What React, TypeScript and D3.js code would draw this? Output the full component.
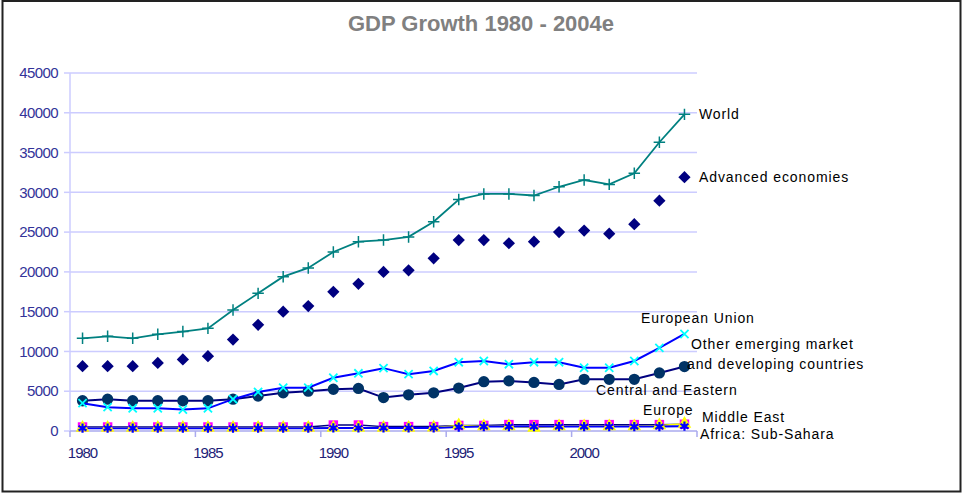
import React from "react";
import * as d3 from "d3";

const years = d3.range(1980, 2005);
const yTicks = [0, 5000, 10000, 15000, 20000, 25000, 30000, 35000, 40000, 45000];
const xTickLabels = [1980, 1985, 1990, 1995, 2000];

const world = [11650, 11900, 11650, 12150, 12500, 12900, 15200, 17300, 19400, 20500, 22500, 23800, 24000, 24400, 26300, 29100, 29800, 29800, 29600, 30700, 31550, 31000, 32400, 36300, 39800];
const advanced = [8150, 8150, 8150, 8550, 9000, 9400, 11500, 13350, 15000, 15700, 17500, 18500, 20000, 20200, 21700, 24000, 24000, 23600, 23800, 25000, 25200, 24800, 26000, 28950, 31900];
const europeanUnion = [3500, 3000, 2850, 2850, 2700, 2850, 4000, 4900, 5450, 5450, 6700, 7250, 7900, 7150, 7550, 8650, 8800, 8400, 8650, 8650, 7950, 7950, 8800, 10450, 12200];
const otherEmerging = [3800, 4000, 3800, 3800, 3800, 3800, 4000, 4400, 4800, 5000, 5250, 5350, 4200, 4550, 4800, 5400, 6200, 6300, 6100, 5850, 6500, 6500, 6500, 7300, 8100];
const centralEastern = [500, 500, 500, 500, 500, 500, 500, 500, 500, 500, 750, 750, 550, 550, 550, 700, 700, 800, 800, 800, 800, 800, 800, 800, 850];
const middleEast = [400, 400, 400, 400, 400, 400, 400, 400, 400, 400, 400, 400, 400, 400, 420, 700, 600, 600, 400, 600, 600, 600, 600, 700, 900];
const africa = [350, 350, 350, 350, 350, 350, 350, 350, 350, 350, 380, 380, 380, 380, 380, 500, 550, 550, 550, 550, 550, 550, 550, 550, 600];

const W = 962;
const H = 493;
const left = 70;
const right = 697;
const top = 73;
const bottom = 431;

export default function App() {
  const x = d3.scaleBand<number>().domain(years).range([left, right]).padding(0);
  const y = d3.scaleLinear().domain([0, 45000]).range([bottom, top]);
  const cx = (yr: number) => (x(yr) as number) + x.bandwidth() / 2;

  const line = (vals: number[]) =>
    d3.line<number>().x((_, i) => cx(years[i])).y((v) => y(v))(vals) || "";

  const sym = (type: d3.SymbolType, size: number) => d3.symbol().type(type).size(size)() || "";

  const labelStyle: React.CSSProperties = {
    fontFamily: "Liberation Sans, Arial, sans-serif",
    fontSize: 14,
    letterSpacing: 0.9,
    fill: "#000",
  };

  const markers = (vals: number[], path: string, fill: string, stroke: string, sw = 1, rot = 0) =>
    vals.map((v, i) => (
      <path
        key={i}
        d={path}
        transform={`translate(${cx(years[i])},${y(v)}) rotate(${rot})`}
        fill={fill}
        stroke={stroke}
        strokeWidth={sw}
      />
    ));

  const bandTicks = years.filter((yr) => (yr - 1980) % 5 === 0).map((yr) => x(yr) as number);

  return (
    <div style={{ position: "absolute", left: 0, top: 0 }}>
      <svg width={W} height={H} style={{ display: "block", background: "#fff" }}>
        <rect x={2.5} y={1} width={958} height={490.5} fill="#fff" stroke="#222" strokeWidth={2} />
        <text
          x={481}
          y={31}
          textAnchor="middle"
          style={{ fontFamily: "Liberation Sans, Arial, sans-serif", fontSize: 22, fontWeight: "bold", fill: "#808080" }}
        >
          GDP Growth 1980 - 2004e
        </text>

        {/* grid + y axis */}
        {yTicks.map((t) => (
          <g key={t}>
            {t > 0 && <line x1={left} x2={right} y1={y(t)} y2={y(t)} stroke="#ccccff" strokeWidth={1.5} />}
            <line x1={left - 6} x2={left} y1={y(t)} y2={y(t)} stroke="#ccccff" strokeWidth={1.5} />
            <text
              x={58}
              y={y(t)}
              dy="0.35em"
              textAnchor="end"
              style={{ fontFamily: "Liberation Sans, Arial, sans-serif", fontSize: 15, letterSpacing: -0.6, fill: "#333399" }}
            >
              {t}
            </text>
          </g>
        ))}
        <line x1={left} x2={left} y1={top} y2={bottom} stroke="#ccccff" strokeWidth={1.5} />
        <line x1={left} x2={right} y1={bottom} y2={bottom} stroke="#aaaaee" strokeWidth={1.5} />
        {bandTicks.map((bx, i) => (
          <line key={i} x1={bx} x2={bx} y1={bottom} y2={bottom + 6} stroke="#aaaaee" strokeWidth={1.5} />
        ))}
        <line x1={right} x2={right} y1={bottom} y2={bottom + 6} stroke="#aaaaee" strokeWidth={1.5} />
        {xTickLabels.map((yr) => (
          <text
            key={yr}
            x={cx(yr)}
            y={453}
            dy="0.35em"
            textAnchor="middle"
            style={{ fontFamily: "Liberation Sans, Arial, sans-serif", fontSize: 15, letterSpacing: -1, fill: "#222277" }}
          >
            {yr}
          </text>
        ))}

        {/* small regional series */}
        <path d={line(centralEastern)} fill="none" stroke="#000080" strokeWidth={1.5} />
        <path d={line(middleEast)} fill="none" stroke="#ffff00" strokeWidth={1.5} />
        <path d={line(africa)} fill="none" stroke="#0000ff" strokeWidth={2} />
        {markers(centralEastern, sym(d3.symbolSquare, 90), "#ff00ff", "none")}
        {markers(middleEast, sym(d3.symbolTriangle, 80), "#ffff00", "none")}
        {markers(africa, sym(d3.symbolAsterisk, 60), "none", "#0000ff", 2.2)}

        {/* other emerging */}
        <path d={line(otherEmerging)} fill="none" stroke="#000080" strokeWidth={2} />
        {markers(otherEmerging, sym(d3.symbolCircle, 100), "#003366", "none")}

        {/* european union */}
        <path d={line(europeanUnion)} fill="none" stroke="#0000ff" strokeWidth={2} />
        {markers(europeanUnion, sym(d3.symbolTimes, 45), "none", "#00ffff", 1.8)}

        {/* advanced economies, markers only */}
        {markers(advanced, sym(d3.symbolSquare, 75), "#000080", "none", 1, 45)}

        {/* world */}
        <path d={line(world)} fill="none" stroke="#008080" strokeWidth={1.8} />
        {markers(world, sym(d3.symbolPlus, 45), "none", "#008080", 1.5)}

        {/* series labels */}
        <g style={labelStyle}>
          <text x={699} y={114} dy="0.35em">World</text>
          <text x={699} y={177} dy="0.35em">Advanced economies</text>
          <text x={641} y={318} dy="0.35em">European Union</text>
          <text x={691} y={344} dy="0.35em">Other emerging market</text>
          <text x={687} y={364} dy="0.35em">and developing countries</text>
          <text x={596} y={390} dy="0.35em">Central and Eastern</text>
          <text x={643} y={410} dy="0.35em">Europe</text>
          <text x={702} y={417} dy="0.35em">Middle East</text>
          <text x={700} y={434} dy="0.35em">Africa: Sub-Sahara</text>
        </g>
      </svg>
    </div>
  );
}
